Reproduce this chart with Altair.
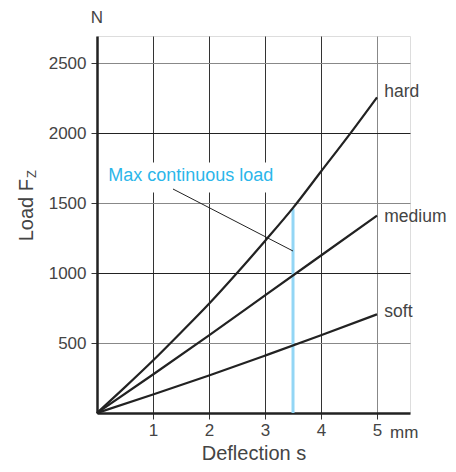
import altair as alt
import pandas as pd

# ---- data ----
hard_s = [0, 0.5, 1, 1.5, 2, 2.5, 3, 3.5, 4, 4.5, 5]
hard_f = [0, 185, 375, 575, 780, 1000, 1229, 1465, 1725, 1985, 2255]
medium_s = [0, 1, 2, 3, 4, 5]
medium_f = [0, 275, 555, 840, 1125, 1410]
soft_s = [0, 1, 2, 3, 4, 5]
soft_f = [0, 132, 268, 410, 555, 705]

max_load_s = [3.5, 3.5]
max_load_f = [0, 1460]

leader_s = [1.357, 3.5]
leader_f = [1600, 1157]

curve_labels = ["hard", "medium", "soft"]
label_s = [5.13, 5.13, 5.13]
label_f = [2293, 1400, 721]

annot_text = ["Max continuous load"]
annot_s = [0.2]
annot_f = [1693]

x_ticks = [1, 2, 3, 4, 5]
y_ticks = [500, 1000, 1500, 2000, 2500]

FONT = "Liberation Sans"
TXT = "#444444"

curves = pd.DataFrame(
    [{"s": s, "f": f, "curve": "hard", "o": i} for i, (s, f) in enumerate(zip(hard_s, hard_f))]
    + [{"s": s, "f": f, "curve": "medium", "o": i} for i, (s, f) in enumerate(zip(medium_s, medium_f))]
    + [{"s": s, "f": f, "curve": "soft", "o": i} for i, (s, f) in enumerate(zip(soft_s, soft_f))]
)

xs = alt.Scale(domain=[0, 5.589], nice=False, zero=False)
ys = alt.Scale(domain=[0, 2693], nice=False, zero=False)

x_axis = alt.Axis(
    values=x_ticks, title="Deflection s", grid=True, format="d",
    gridColor={"condition": {"test": "datum.value == 5", "value": "#888888"}, "value": "#333333"},
    gridWidth=1, domainColor="#222222", domainWidth=2.5, tickColor="#333333", tickSize=6,
    labelFont=FONT, labelFontSize=17, labelColor=TXT, labelPadding=3,
    titleFont=FONT, titleFontSize=20, titleFontWeight="normal", titleColor=TXT, titlePadding=5,
)
y_axis = alt.Axis(
    values=y_ticks, title=None, grid=True, format="d",
    gridColor={"condition": {"test": "datum.value % 1000 == 0", "value": "#222222"}, "value": "#888888"},
    gridWidth=1, domainColor="#222222", domainWidth=2.5, tickColor="#333333", tickSize=6,
    labelFont=FONT, labelFontSize=17, labelColor=TXT, labelPadding=5,
)

base = alt.Chart(curves)

lines = base.mark_line(color="#222222", strokeWidth=2.2, interpolate="monotone").encode(
    x=alt.X("s:Q", scale=xs, axis=x_axis),
    y=alt.Y("f:Q", scale=ys, axis=y_axis),
    detail="curve:N",
    order="o:Q",
)

# white patch behind the annotation text (gridlines break around it)
patch = alt.Chart(pd.DataFrame({"s": [0.15], "s2": [3.3], "f": [1575], "f2": [1790]})).mark_rect(
    color="white"
).encode(x=alt.X("s:Q", scale=xs), x2="s2:Q", y=alt.Y("f:Q", scale=ys), y2="f2:Q")

blue = alt.Chart(pd.DataFrame({"s": max_load_s, "f": max_load_f})).mark_line(
    color="#93d6f5", strokeWidth=3
).encode(x=alt.X("s:Q", scale=xs), y=alt.Y("f:Q", scale=ys))

leader = alt.Chart(pd.DataFrame({"s": leader_s, "f": leader_f})).mark_line(
    color="#222222", strokeWidth=1
).encode(x=alt.X("s:Q", scale=xs), y=alt.Y("f:Q", scale=ys))

labels = alt.Chart(pd.DataFrame({"s": label_s, "f": label_f, "t": curve_labels})).mark_text(
    font=FONT, fontSize=17.5, color=TXT, align="left", baseline="middle"
).encode(x=alt.X("s:Q", scale=xs), y=alt.Y("f:Q", scale=ys), text="t:N")

annot = alt.Chart(pd.DataFrame({"s": annot_s, "f": annot_f, "t": annot_text})).mark_text(
    font=FONT, fontSize=18, color="#2bb6ea", align="left", baseline="middle"
).encode(x=alt.X("s:Q", scale=xs), y=alt.Y("f:Q", scale=ys), text="t:N")

unit_n = alt.Chart(pd.DataFrame({"t": ["N"]})).mark_text(
    font=FONT, fontSize=17, color=TXT, align="center", baseline="middle"
).encode(x=alt.value(0), y=alt.value(-18), text="t:N")

unit_mm = alt.Chart(pd.DataFrame({"t": ["mm"]})).mark_text(
    font=FONT, fontSize=17, color=TXT, align="left", baseline="middle"
).encode(x=alt.value(293), y=alt.value(397), text="t:N")

ytitle = alt.Chart(pd.DataFrame({"t": ["Load F"]})).mark_text(
    font=FONT, fontSize=20, color=TXT, align="right", baseline="alphabetic", angle=270
).encode(x=alt.value(-64), y=alt.value(143), text="t:N")

ysub = alt.Chart(pd.DataFrame({"t": ["Z"]})).mark_text(
    font=FONT, fontSize=13, color=TXT, align="left", baseline="alphabetic", angle=270
).encode(x=alt.value(-61), y=alt.value(142), text="t:N")

chart = alt.layer(
    patch, blue, lines, leader, labels, annot, unit_n, unit_mm, ytitle, ysub
).properties(
    width=313, height=377,
    autosize=alt.AutoSizeParams(type="none"),
    padding={"left": 89, "top": 28, "right": 38, "bottom": 51},
).configure_view(stroke=None).configure(background="white")

chart.save("out.html", embed_options={"renderer": "svg", "actions": False})
